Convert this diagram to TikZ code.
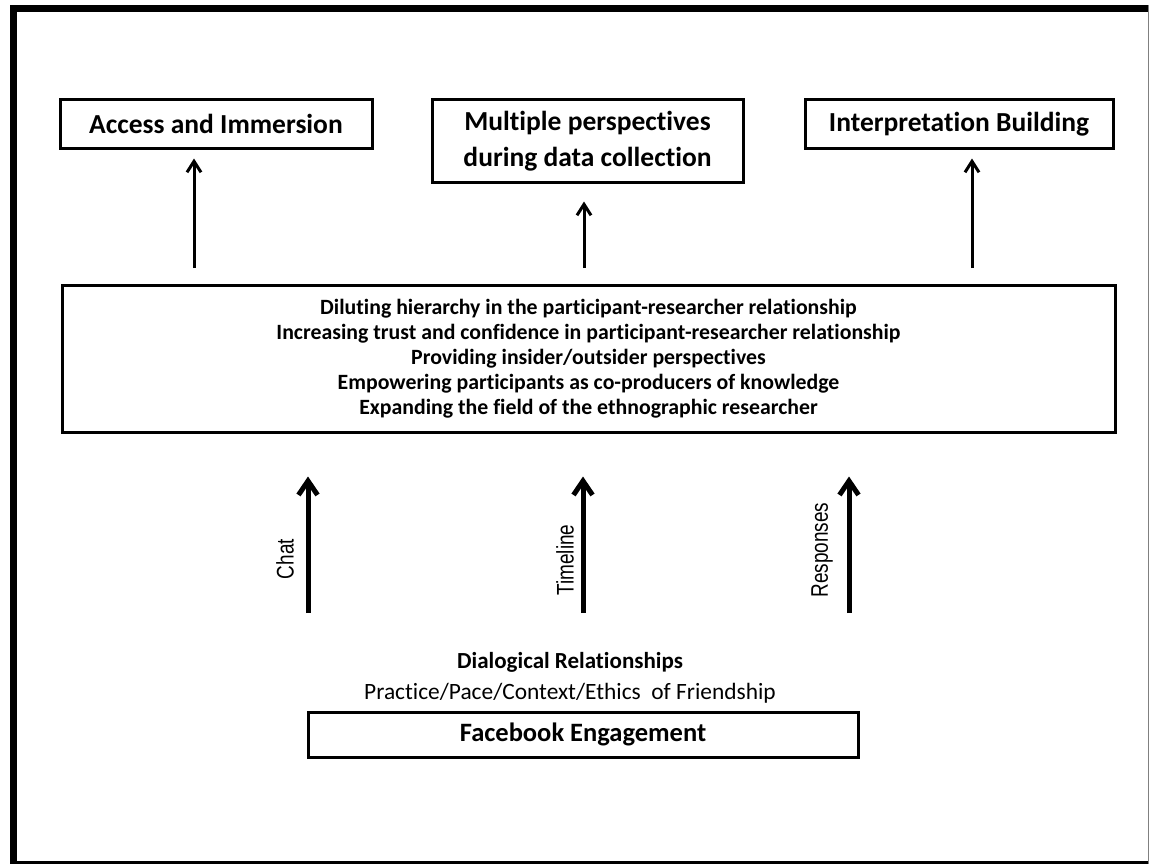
\documentclass[tikz,border=0pt]{standalone}
\usepackage{fontspec}
\setmainfont{Carlito}[Ligatures=NoCommon]
\newfontfamily\labelfont{Liberation Sans}
\usepackage{tikz}
\usetikzlibrary{calc, arrows.meta}

\newcommand{\squeezed}[1]{\scalebox{0.79}[1]{#1}}

\tikzset{
  box/.style={draw, line width=3pt, align=center, inner sep=0pt,
    font=\bfseries\fontsize{27.5}{36}\selectfont},
  upthin/.style={line width=3pt, -{Straight Barb[length=11pt,width=14pt]}},
  upthick/.style={line width=5pt, -{Straight Barb[length=14pt,width=19pt]}},
  rotlabel/.style={rotate=90, font=\labelfont\fontsize{24}{26}\selectfont}
}

\begin{document}
\begin{tikzpicture}[x=1pt, y=-1pt]
    \useasboundingbox (0,0) rectangle (1150,864);
    %外枠
    \fill (10,5) rectangle (17,864);
    \fill (10,5) rectangle (1148,12);
    \fill (10,861) rectangle (1148,864);
    \draw[gray, line width=1.5pt] (1148.5,5) -- (1148.5,864);
    %上段の三つの箱
    \node[box, minimum width=312, minimum height=48] (acc) at (216,124) {Access and Immersion};
    \node[box, minimum width=311, minimum height=82] (multi) at (587.5,141) {Multiple perspectives\\during data collection};
    \node[box, minimum width=308, minimum height=48] (interp) at (959,124) {Interpretation Building};
    %中段の箱
    \node[draw, line width=3pt, minimum width=1053, minimum height=147, align=center,
      font=\bfseries\fontsize{21.8}{25}\selectfont] (main) at (588.5,358.5)
      {Diluting hierarchy in the participant-researcher relationship\\
       Increasing trust and confidence in participant-researcher relationship\\
       Providing insider/outsider perspectives\\
       Empowering participants as co-producers of knowledge\\
       Expanding the field of the ethnographic researcher};
    %上向きの矢印(上段)
    \coordinate (a1) at (194,268);
    \coordinate (a2) at (584,268);
    \coordinate (a3) at (972,268);
    \draw[upthin, shorten >=9pt] (a1) -- (a1 |- acc.south);
    \draw[upthin, shorten >=18pt] (a2) -- (a2 |- multi.south);
    \draw[upthin, shorten >=9pt] (a3) -- (a3 |- interp.south);
    %下段
    \node[font=\bfseries\fontsize{23}{26}\selectfont] (dialog) at (570,662) {Dialogical Relationships};
    \node[font=\fontsize{23.4}{26}\selectfont] (practice) at (570,693) {Practice/Pace/Context/Ethics\ \ of Friendship};
    \node[box, minimum width=550, minimum height=45, font=\bfseries\fontsize{26.5}{30}\selectfont] (fb) at (583,734.5) {Facebook Engagement};
    %上向きの矢印(下段)とラベル
    \coordinate (b1) at (308,613);
    \coordinate (b2) at (583,613);
    \coordinate (b3) at (849,613);
    \draw[upthick, shorten >=43pt] (b1) -- (b1 |- main.south);
    \draw[upthick, shorten >=43pt] (b2) -- (b2 |- main.south);
    \draw[upthick, shorten >=43pt] (b3) -- (b3 |- main.south);
    \node[rotlabel] (chat) at (285,559) {\squeezed{Chat}};
    \node[rotlabel] (timeline) at (565,560) {\squeezed{Timeline}};
    \node[rotlabel] (resp) at (822,550) {\squeezed{Responses}};
\end{tikzpicture}
\end{document}
